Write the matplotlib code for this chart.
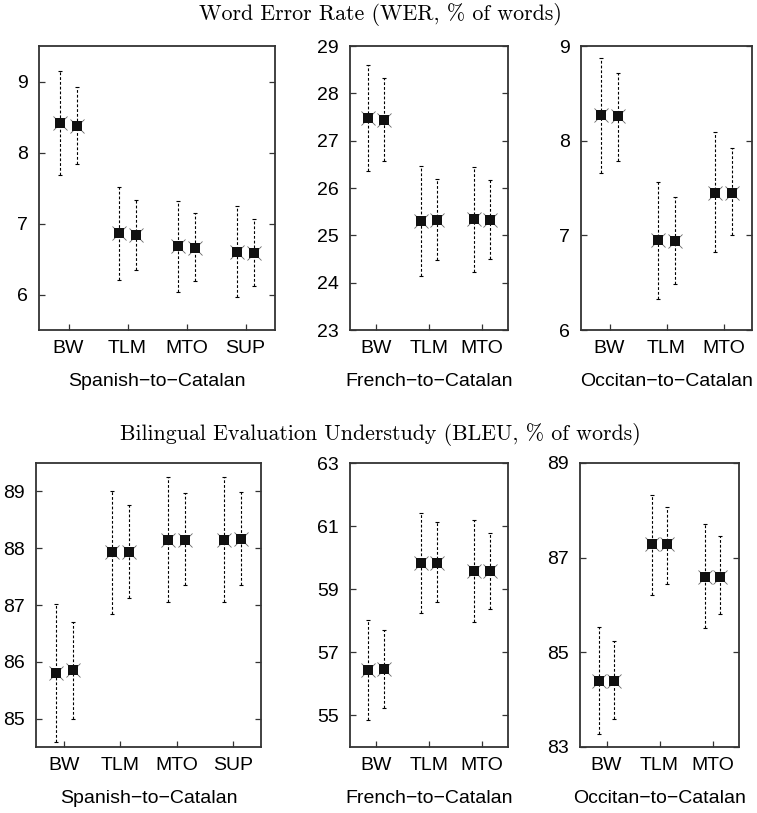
import numpy as np
import matplotlib.pyplot as plt

# --- DATA ---
systems_es = ["BW", "TLM", "MTO", "SUP"]
systems_3 = ["BW", "TLM", "MTO"]

# each system has two estimates (left / right point); value, upper, lower
wer_es_val = [8.42, 8.37, 6.86, 6.84, 6.68, 6.66, 6.60, 6.58]
wer_es_hi = [9.15, 8.92, 7.52, 7.33, 7.31, 7.15, 7.24, 7.07]
wer_es_lo = [7.69, 7.84, 6.21, 6.35, 6.03, 6.19, 5.97, 6.12]

wer_fr_val = [27.48, 27.44, 25.30, 25.33, 25.35, 25.33]
wer_fr_hi = [28.60, 28.32, 26.47, 26.20, 26.45, 26.17]
wer_fr_lo = [26.35, 26.57, 24.15, 24.48, 24.22, 24.50]

wer_oc_val = [8.27, 8.26, 6.95, 6.94, 7.45, 7.45]
wer_oc_hi = [8.87, 8.72, 7.56, 7.41, 8.09, 7.92]
wer_oc_lo = [7.66, 7.79, 6.33, 6.49, 6.82, 7.00]

bleu_es_val = [85.80, 85.85, 87.93, 87.93, 88.15, 88.15, 88.15, 88.17]
bleu_es_hi = [87.01, 86.70, 89.01, 88.76, 89.25, 88.97, 89.26, 88.99]
bleu_es_lo = [84.58, 84.99, 86.84, 87.12, 87.06, 87.35, 87.05, 87.36]

bleu_fr_val = [56.43, 56.47, 59.83, 59.83, 59.57, 59.57]
bleu_fr_hi = [58.02, 57.72, 61.43, 61.13, 61.20, 60.77]
bleu_fr_lo = [54.85, 55.25, 58.26, 58.60, 57.95, 58.36]

bleu_oc_val = [84.40, 84.40, 87.28, 87.28, 86.60, 86.60]
bleu_oc_hi = [85.53, 85.23, 88.33, 88.08, 87.72, 87.45]
bleu_oc_lo = [83.27, 83.60, 86.21, 86.45, 85.52, 85.80]

W, H = 757, 813
DPI = 100
fig = plt.figure(figsize=(W / DPI, H / DPI), dpi=DPI)

SANS = "Liberation Sans"
SERIF = ["cmr10", "DejaVu Serif"]
FS = 14


def make_ax(left, top, right, bottom):
    return fig.add_axes([left / W, 1 - bottom / H, (right - left) / W, (bottom - top) / H])


def panel(ax, cats, val, hi, lo, ylim, yticks, xlabel):
    n = len(cats)
    pos = np.repeat(np.arange(n), 2) + np.tile([-0.15, 0.15], n)
    val = np.array(val)
    err = [val - np.array(lo), np.array(hi) - val]
    _, caps, bars = ax.errorbar(pos, val, yerr=err, fmt="none", ecolor="black",
                                elinewidth=0.8, capsize=1.6, capthick=0.8, zorder=2)
    for b in bars:
        b.set_linestyle((0, (2.5, 1.8)))
    ax.plot(pos, val, "x", color="#666666", markersize=9.5, mew=0.6, zorder=3)
    ax.plot(pos, val, "s", color="#111111", markersize=7, mew=0, zorder=4)

    ax.set_xlim(-0.5, n - 0.5)
    ax.set_ylim(*ylim)
    ax.set_xticks(range(n))
    ax.set_xticklabels(cats, fontfamily=SANS, fontsize=FS)
    ax.set_yticks(yticks)
    ax.set_yticklabels([str(t) for t in yticks], fontfamily=SANS, fontsize=FS)
    ax.tick_params(axis="y", direction="in", length=4, width=0.9, left=True, right=True,
                   pad=8, color="#333333")
    ax.tick_params(axis="x", direction="in", length=4, width=0.9, top=False, pad=7,
                   color="#333333")
    for s in ax.spines.values():
        s.set_linewidth(1.3)
        s.set_color("#333333")
    ax.set_xlabel(xlabel, fontfamily=SANS, fontsize=FS, labelpad=11.5)


lab_es = "Spanish\u2212to\u2212Catalan"
lab_fr = "French\u2212to\u2212Catalan"
lab_oc = "Occitan\u2212to\u2212Catalan"

ax1 = make_ax(39, 46, 275, 330)
panel(ax1, systems_es, wer_es_val, wer_es_hi, wer_es_lo, (5.5, 9.5), [6, 7, 8, 9], lab_es)
ax2 = make_ax(350, 46, 508, 330)
panel(ax2, systems_3, wer_fr_val, wer_fr_hi, wer_fr_lo, (23, 29), [23, 24, 25, 26, 27, 28, 29], lab_fr)
ax3 = make_ax(581, 46, 752, 330)
panel(ax3, systems_3, wer_oc_val, wer_oc_hi, wer_oc_lo, (6, 9), [6, 7, 8, 9], lab_oc)

ax4 = make_ax(36, 463, 261, 747)
panel(ax4, systems_es, bleu_es_val, bleu_es_hi, bleu_es_lo, (84.5, 89.5), [85, 86, 87, 88, 89], lab_es)
ax5 = make_ax(350, 463, 508, 747)
panel(ax5, systems_3, bleu_fr_val, bleu_fr_hi, bleu_fr_lo, (54, 63), [55, 57, 59, 61, 63], lab_fr)
ax6 = make_ax(580, 463, 739, 747)
panel(ax6, systems_3, bleu_oc_val, bleu_oc_hi, bleu_oc_lo, (83, 89), [83, 85, 87, 89], lab_oc)

fig.text(380 / W, 1 - 14 / H, "Word Error Rate (WER, % of words)", ha="center", va="center",
         fontfamily=SERIF, fontsize=15.8)
fig.text(380 / W, 1 - 434 / H, "Bilingual Evaluation Understudy (BLEU, % of words)",
         ha="center", va="center", fontfamily=SERIF, fontsize=15.8)

fig.savefig("out.png", dpi=DPI)
